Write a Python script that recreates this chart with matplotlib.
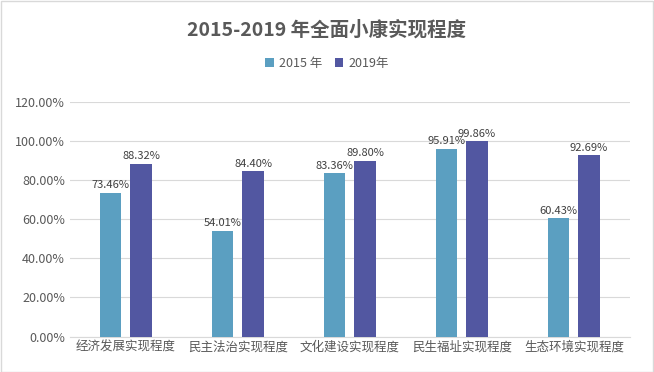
import numpy as np
import matplotlib
matplotlib.use("Agg")
import matplotlib.pyplot as plt
from matplotlib.ticker import FuncFormatter
from matplotlib.patches import Rectangle

plt.rcParams["font.family"] = ["Noto Sans CJK SC", "DejaVu Sans"]

categories = ["经济发展实现程度", "民主法治实现程度", "文化建设实现程度", "民生福址实现程度", "生态环境实现程度"]
v2015 = [73.46, 54.01, 83.36, 95.91, 60.43]
v2019 = [88.32, 84.40, 89.80, 99.86, 92.69]
series = ["2015 年", "2019年"]
colors = ["#5B9FC1", "#5257A1"]

fig = plt.figure(figsize=(6.54, 3.72), dpi=100)
ax = fig.add_axes([0.107, 0.095, 0.856, 0.632])

x = np.arange(len(categories))
w = 0.19
off = 0.135
b1 = ax.bar(x - off, np.array(v2015) / 100, w, color=colors[0], label=series[0], zorder=3)
b2 = ax.bar(x + off, np.array(v2019) / 100, w, color=colors[1], label=series[1], zorder=3)
for bars, vals in ((b1, v2015), (b2, v2019)):
    for b, v in zip(bars, vals):
        ax.text(b.get_x() + b.get_width() / 2, v / 100 + 0.012, f"{v:.2f}%",
                ha="center", va="bottom", fontsize=8, color="#404040")

ax.set_xlim(-0.5, len(categories) - 0.5)
ax.set_ylim(0, 1.2)
ax.set_yticks(np.arange(0, 1.21, 0.2))
ax.yaxis.set_major_formatter(FuncFormatter(lambda v, _: f"{v * 100:.2f}%"))
ax.set_xticks(x)
ax.set_xticklabels(categories)
ax.tick_params(axis="both", length=0, labelsize=9, labelcolor="#595959")
ax.tick_params(axis="x", pad=3)
ax.grid(axis="y", color="#D9D9D9", lw=0.8, zorder=0)
for s in ("top", "right", "left"):
    ax.spines[s].set_visible(False)
ax.spines["bottom"].set_color("#D9D9D9")

fig.text(0.5, 0.92, "2015-2019 年全面小康实现程度", ha="center", va="center",
         fontsize=14, fontweight="bold", color="#595959")
fig.legend(loc="center", bbox_to_anchor=(0.5, 0.83), ncol=2, frameon=False,
           fontsize=9, handlelength=0.7, handleheight=0.7, columnspacing=1.0,
           handletextpad=0.4, labelcolor="#595959")

fig.patches.append(Rectangle((0.001, 0.001), 0.997, 0.997, transform=fig.transFigure,
                             fill=False, edgecolor="#D9D9D9", lw=1))
fig.savefig("out.png", dpi=100)
